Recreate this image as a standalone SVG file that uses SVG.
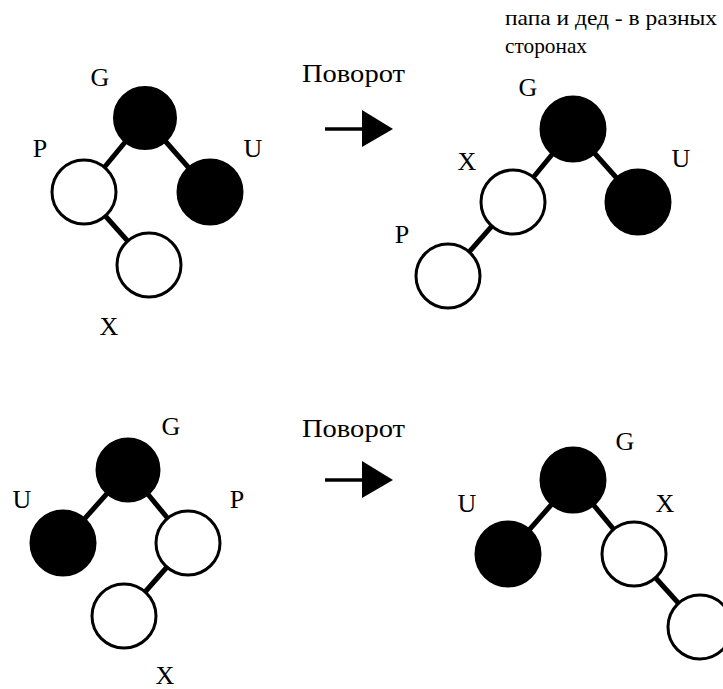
<svg xmlns="http://www.w3.org/2000/svg" width="723" height="689" viewBox="0 0 723 689">
<style>
.bg{fill:#fff}
.lbl{font-size:26px;fill:#000;text-anchor:middle}
.cap{font-size:25px;fill:#000}
.note{font-size:21px;fill:#000}
.edge{stroke:#000;stroke-width:5;fill:none}
.blk{fill:#000;stroke:#000;stroke-width:3}
.wht{fill:#fff;stroke:#000;stroke-width:3}
.arr{stroke:#000;stroke-width:3.5;fill:none}
.head{fill:#000}
</style>
<rect class="bg" x="0" y="0" width="723" height="689"/>

<g id="connectors">
  <line class="edge" x1="145" y1="118" x2="84" y2="192"/>
  <line class="edge" x1="145" y1="118" x2="210" y2="192"/>
  <line class="edge" x1="84" y1="192" x2="149" y2="265"/>

  <line class="edge" x1="573" y1="129" x2="513" y2="202"/>
  <line class="edge" x1="573" y1="129" x2="638" y2="202"/>
  <line class="edge" x1="513" y1="202" x2="448" y2="276"/>

  <line class="edge" x1="128" y1="470" x2="63" y2="543"/>
  <line class="edge" x1="128" y1="470" x2="188" y2="543"/>
  <line class="edge" x1="188" y1="543" x2="124" y2="616"/>

  <line class="edge" x1="573" y1="480" x2="508" y2="554"/>
  <line class="edge" x1="573" y1="480" x2="634" y2="554"/>
  <line class="edge" x1="634" y1="554" x2="700" y2="627"/>

  <line class="arr" x1="325" y1="129" x2="364" y2="129"/>
  <polygon class="head" points="362,110 393,129 362,147"/>
  <line class="arr" x1="325" y1="480" x2="364" y2="480"/>
  <polygon class="head" points="362,461 393,480 362,498"/>
</g>

<g font-family="'Liberation Serif', 'Times New Roman', Times, serif">
<g id="top-left-G"><circle class="blk" cx="145" cy="118" r="30.5"/><text class="lbl" x="100" y="86">G</text></g>
<g id="top-left-P"><circle class="wht" cx="84" cy="192" r="32"/><text class="lbl" x="40" y="157">P</text></g>
<g id="top-left-U"><circle class="blk" cx="210" cy="192" r="32"/><text class="lbl" x="253" y="157">U</text></g>
<g id="top-left-X"><circle class="wht" cx="149" cy="265" r="32"/><text class="lbl" x="109" y="335">X</text></g>

<g id="top-caption"><text class="cap" x="302" y="82" textLength="103" lengthAdjust="spacingAndGlyphs">Поворот</text></g>
<g id="note">
  <text class="note" x="505" y="25" textLength="212" lengthAdjust="spacingAndGlyphs">папа и дед - в разных</text>
  <text class="note" x="505" y="53" textLength="82" lengthAdjust="spacingAndGlyphs">сторонах</text>
</g>

<g id="top-right-G"><circle class="blk" cx="573" cy="129" r="32"/><text class="lbl" x="528" y="96">G</text></g>
<g id="top-right-X"><circle class="wht" cx="513" cy="202" r="32"/><text class="lbl" x="467" y="170">X</text></g>
<g id="top-right-U"><circle class="blk" cx="638" cy="202" r="32"/><text class="lbl" x="681" y="167">U</text></g>
<g id="top-right-P"><circle class="wht" cx="448" cy="276" r="32"/><text class="lbl" x="402" y="243">P</text></g>

<g id="bottom-left-G"><circle class="blk" cx="128" cy="470" r="31"/><text class="lbl" x="171" y="435">G</text></g>
<g id="bottom-left-U"><circle class="blk" cx="63" cy="543" r="32"/><text class="lbl" x="22" y="508">U</text></g>
<g id="bottom-left-P"><circle class="wht" cx="188" cy="543" r="32"/><text class="lbl" x="237" y="508">P</text></g>
<g id="bottom-left-X"><circle class="wht" cx="124" cy="616" r="32"/><text class="lbl" x="165" y="684">X</text></g>

<g id="bottom-caption"><text class="cap" x="302" y="437" textLength="103" lengthAdjust="spacingAndGlyphs">Поворот</text></g>

<g id="bottom-right-G"><circle class="blk" cx="573" cy="480" r="32"/><text class="lbl" x="625" y="450">G</text></g>
<g id="bottom-right-U"><circle class="blk" cx="508" cy="554" r="32"/><text class="lbl" x="467" y="512">U</text></g>
<g id="bottom-right-X"><circle class="wht" cx="634" cy="554" r="32"/><text class="lbl" x="665" y="512">X</text></g>
<g id="bottom-right-P"><circle class="wht" cx="700" cy="627" r="32"/></g>
</g>
</svg>
